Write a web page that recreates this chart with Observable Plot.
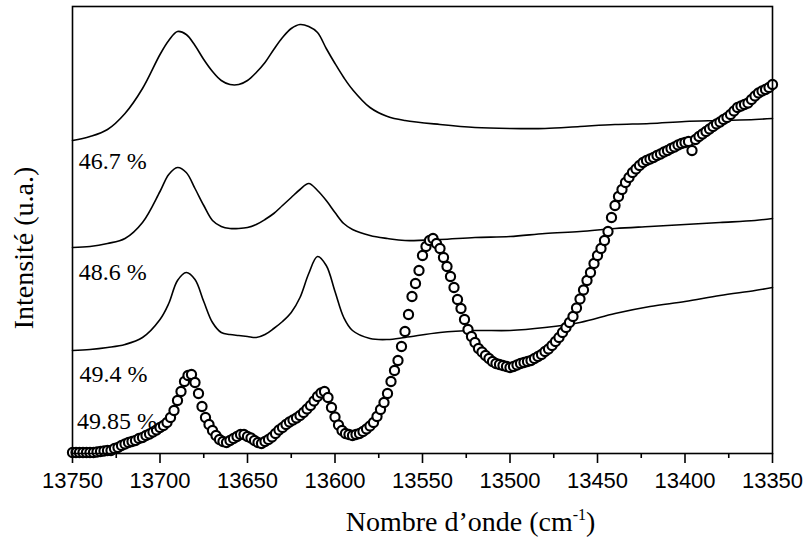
<!DOCTYPE html>
<html><head><meta charset="utf-8">
<script src="https://cdn.jsdelivr.net/npm/d3@7"></script>
<script src="https://cdn.jsdelivr.net/npm/@observablehq/plot@0.6"></script>
<style>body{margin:0;background:#fff}</style>
</head><body><div id="chart"></div>
<script>
// Wavenumber sampling of the three solid spectra (cm-1)
const lineWn = [13750,13740,13730,13720,13710,13700,13695,13690,13685,13680,13675,13670,13665,13660,13655,13650,13645,13640,13635,13630,13625,13620,13615,13610,13605,13600,13595,13590,13580,13570,13560,13540,13520,13500,13480,13460,13440,13420,13400,13380,13360,13350];
// Intensities (a.u., offset stacks)
const curve467 = [313,317,324,340,365,399,413,422,419,408,394,382,373,369,369,373,381,391,404,416,425,429,427,421,405,390,376,364,346,337,333,329,326,325,325,327,329,330,332,333,334,335];
const curve486 = [206,207,210,215,231,262,279,286,281,265,248,233,227,225,225,226,229,234,240,248,256,264,270,263,253,241,230,224,218,215,213,214,216,217,220,222,225,227,229,231,233,235];
const curve494 = [103,104,106,109,116,134,150,173,181,174,152,131,121,119,118,117,116,119,125,132,141,156,180,197,188,162,136,123,115,114,116,121,123,123,126,131,140,147,152,158,163,166];

// Measured points of the 49.85 % spectrum
const scatterWn = [
13750,13748,13746,13744,13742,13740,13738,13736,13734,13732,
13730,13728,13726,13724,13722,13720,13718,13716,13714,13712,
13710,13708,13706,13704,13702,13700,13698,13696,13694,13692,
13690,13688,13686,13684,13682,13680,13678,13676,13674,13672,
13670,13668,13666,13664,13662,13660,13658,13656,13654,13652,
13650,13648,13646,13644,13642,13640,13638,13636,13634,13632,
13630,13628,13626,13624,13622,13620,13618,13616,13614,13612,
13610,13608,13606,13604,13602,13600,13598,13596,13594,13592,
13590,13588,13586,13584,13582,13580,13578,13576,13574,13572,
13570,13568,13566,13564,13562,13560,13558,13556,13554,13552,
13550,13548,13546,13544,13542,13540,13538,13536,13534,13532,
13530,13528,13526,13524,13522,13520,13518,13516,13514,13512,
13510,13508,13506,13504,13502,13500,13498,13496,13494,13492,
13490,13488,13486,13484,13482,13480,13478,13476,13474,13472,
13470,13468,13466,13464,13462,13460,13458,13456,13454,13452,
13450,13448,13446,13444,13442,13440,13438,13436,13434,13432,
13430,13428,13426,13424,13422,13420,13418,13416,13414,13412,
13410,13408,13406,13404,13402,13400,13398,13396,13394,13392,
13390,13388,13386,13384,13382,13380,13378,13376,13374,13372,
13370,13368,13366,13364,13362,13360,13358,13356,13354,13352,
13350];
const scatter4985 = [
1,1,1,1,1,1,1,1.5,2,2.5,
3,3,5,6,8,9.5,11,12,13,15,
16,18,19.5,21.5,23.5,26,28,31,36,43,
53,62,72,78,79,71,60,47,36,29,
23,18,14,12,11,13,15,17,19,19,
17,15.5,13,11,10,12,14,16.5,20,23.5,
26,29,31.5,33.5,35.5,38,41,44.5,48,52.5,
57,60.5,62,56,46,36.5,28.5,23,20,19,
18,19,20,22,24.5,27.5,31,37,44,51,
60,72,83,93,107,122,139,157,170,183,
198,207,213,215,210,205,196,187,177,166,
154,145,134,124,117,111,105,101.5,98,95,
92,90,89,88,87,86,87,88.5,90,91,
92,93,95,97,99,102,104.5,108,112,116,
121,126,131,137,145.5,154.5,163.5,173,181,190,
198,205,213,222,236,248,257,264,271,276,
281,284.5,288,291,293,294.5,296,298,299.5,301.5,
303,305,306.5,308.5,310,311,312,303,314,317,
319.5,322,324.5,327,329.5,331.5,334,336,339,342.5,
346,347.5,349,350.5,354,357.5,360.5,362.5,364,366,
369];

const seriesLabels = ["46.7 %", "48.6 %", "49.4 %", "49.85 %"];
const labelWn = [13746.5, 13746.5, 13746, 13747.5];
const labelLevel = [285, 174, 72, 25];

const majorTicks = [13750,13700,13650,13600,13550,13500,13450,13400,13350];
const minorTicks = [13725,13675,13625,13575,13525,13475,13425,13375];

const xTitle = "Nombre d\u2019onde (cm";
const yTitle = "Intensit\u00e9 (u.a.)";

const serif = "'Liberation Serif', 'Times New Roman', serif";
const sans = "'Liberation Sans', Arial, sans-serif";

const lines = [
  ...lineWn.map((w, i) => ({wn: w, v: curve467[i], s: "46.7"})),
  ...lineWn.map((w, i) => ({wn: w, v: curve486[i], s: "48.6"})),
  ...lineWn.map((w, i) => ({wn: w, v: curve494[i], s: "49.4"}))
];
const points = scatterWn.map((w, i) => ({wn: w, v: scatter4985[i]}));
const labels = seriesLabels.map((t, i) => ({t, wn: labelWn[i], v: labelLevel[i]}));

const chart = Plot.plot({
  width: 804,
  height: 541,
  marginLeft: 72,
  marginRight: 32,
  marginTop: 6,
  marginBottom: 88,
  style: {fontFamily: sans, fontSize: "22px", background: "white", color: "black"},
  x: {domain: [13750, 13350], axis: null},
  y: {domain: [0, 447], axis: null},
  marks: [
    Plot.line(lines, {x: "wn", y: "v", z: "s", curve: "catmull-rom", stroke: "black", strokeWidth: 1.6}),
    Plot.dot(points, {x: "wn", y: "v", r: 4.6, fill: "white", stroke: "black", strokeWidth: 2.1}),
    Plot.text(labels, {x: "wn", y: "v", text: "t", textAnchor: "start", lineAnchor: "bottom", fontSize: 24, fontFamily: serif, fill: "black"}),
    Plot.frame({stroke: "black", strokeWidth: 1.6}),
    Plot.axisX({ticks: majorTicks, tickSize: 10, tickPadding: 9, tickFormat: d => String(d), fontSize: 22, fontFamily: sans, label: null, strokeWidth: 1.6}),
    Plot.axisX({ticks: minorTicks, tickSize: 5, tickFormat: () => "", label: null, strokeWidth: 1.6}),
    Plot.text([xTitle], {frameAnchor: "bottom", dx: 48, dy: 77, lineAnchor: "bottom", fontSize: 28, fontFamily: serif, fill: "black"}),
    Plot.text([yTitle], {frameAnchor: "left", rotate: -90, dx: -40, dy: 18, lineAnchor: "bottom", textAnchor: "middle", fontSize: 28, fontFamily: serif, fill: "black"})
  ]
});

document.getElementById("chart").appendChild(chart);

// superscript "-1" in the x-axis title
const xt = [...chart.querySelectorAll("text")].find(e => e.textContent === xTitle);
if (xt) {
  xt.textContent = "";
  const ns = "http://www.w3.org/2000/svg";
  const a = document.createElementNS(ns, "tspan"); a.textContent = xTitle; xt.appendChild(a);
  const b = document.createElementNS(ns, "tspan"); b.textContent = "-1"; b.setAttribute("font-size", "16"); b.setAttribute("dy", "-11"); xt.appendChild(b);
  const c = document.createElementNS(ns, "tspan"); c.textContent = ")"; c.setAttribute("dy", "11"); xt.appendChild(c);
}
</script>
</body></html>
